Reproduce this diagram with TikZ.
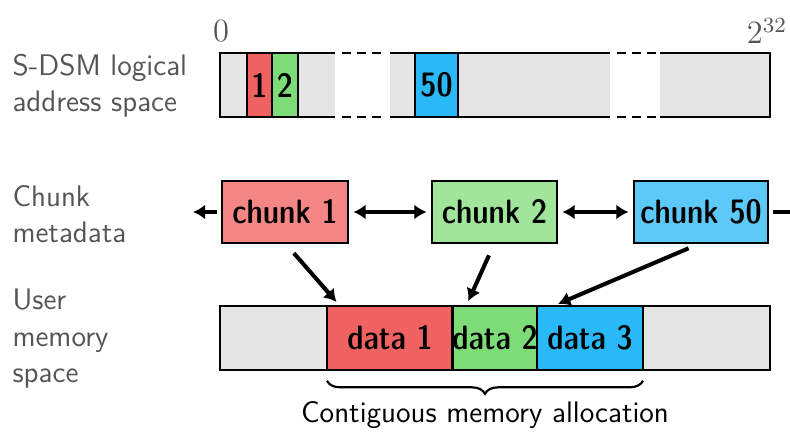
\documentclass[tikz,border=0pt]{standalone}
\usepackage{amsmath}
\usetikzlibrary{arrows.meta,decorations.pathreplacing,calc}

\definecolor{memgray}{HTML}{E5E5E5}
\definecolor{labelgray}{HTML}{555555}
\definecolor{redA}{HTML}{F06262}
\definecolor{redB}{HTML}{F48686}
\definecolor{greenA}{HTML}{7DDB78}
\definecolor{greenB}{HTML}{A0E59A}
\definecolor{blueA}{HTML}{29B8F8}
\definecolor{blueB}{HTML}{5CC9F9}

\newcommand{\boxfont}{\sffamily\fontseries{sbc}\fontsize{12.5}{15}\selectfont}
\newcommand{\plainfont}{\sffamily\fontsize{11}{13.5}\selectfont}

\tikzset{
	cell/.style={draw, rectangle, line width=1pt, inner sep=0pt, outer sep=0pt, minimum height=0.832cm, font=\boxfont},
	chunkbox/.style={draw, rectangle, line width=1pt, inner sep=0pt, outer sep=0pt, minimum height=0.806cm, font=\boxfont},
	side/.style={anchor=west, align=left, inner sep=0pt, text=labelgray, font=\plainfont},
	link/.style={line width=1.5pt, {Latex[length=4.5pt,width=5.5pt]}-{Latex[length=4.5pt,width=5.5pt]}},
	ptr/.style={line width=1.5pt, -{Latex[length=4.5pt,width=5.5pt]}},
	gapline/.style={line width=1pt, dash pattern=on 3.3pt off 2.3pt}
}

\begin{document}
\begin{tikzpicture}[x=0.013cm, y=-0.013cm]
			\useasboundingbox (0,0) rectangle (790,433);

			% left labels
			\node[side] (lsdsm) at ( 12, 86 ) { S-DSM logical\\address space };
			\node[side] (lchunk) at ( 12, 214 ) { Chunk\\metadata };
			\node[side] (luser) at ( 12, 339 ) { User\\memory\\space };

			% logical address space
			\fill[memgray] (220,53) rectangle (335,117);
			\fill[memgray] (390,53) rectangle (610,117);
			\fill[memgray] (660,53) rectangle (770,117);
			\draw[line width=1pt] (335,53) -- (220,53) -- (220,117) -- (335,117);
			\draw[line width=1pt] (390,53) -- (610,53) (390,117) -- (610,117);
			\draw[line width=1pt] (660,53) -- (770,53) -- (770,117) -- (660,117);
			\draw[gapline] (342,53) -- (384,53) (342,117) -- (384,117);
			\draw[gapline] (617,53) -- (656,53) (617,117) -- (656,117);
			\node[cell, fill=redA, minimum width=0.325cm] (b1) at ( 259.5, 85 ) { 1 };
			\node[cell, fill=greenA, minimum width=0.338cm] (b2) at ( 285, 85 ) { 2 };
			\node[cell, fill=blueA, minimum width=0.559cm] (b50) at ( 436.5, 85 ) { 50 };
			\node[text=labelgray, font=\large] (lo) at ( 221, 31 ) { $0$ };
			\node[text=labelgray, font=\large] (hi) at ( 767, 31 ) { $2^{32}$ };

			% chunk metadata
			\node[chunkbox, fill=redB, minimum width=1.638cm] (c1) at ( 285, 212 ) { chunk 1 };
			\node[chunkbox, fill=greenB, minimum width=1.625cm] (c2) at ( 494.5, 212 ) { chunk 2 };
			\node[chunkbox, fill=blueB, minimum width=1.742cm] (c50) at ( 701, 212 ) { chunk 50 };
			\coordinate (prev) at ( 193, 212 );
			\coordinate (next) at ( 790, 212 );

			\draw[ptr, shorten <=2pt] (c1) -- (prev);
			\draw[link, shorten <=2pt, shorten >=2pt] (c1) -- (c2);
			\draw[link, shorten <=2pt, shorten >=2pt] (c2) -- (c50);
			\draw[line width=1.5pt, shorten <=2pt] (c50) -- (next);

			% user memory space
			\draw[line width=1pt, fill=memgray] (220,306) rectangle (770,370);
			\node[cell, fill=redA, minimum width=1.638cm] (d1) at ( 390, 338 ) { data 1 };
			\node[cell, fill=greenA, minimum width=1.092cm] (d2) at ( 495, 338 ) { data 2 };
			\node[cell, fill=blueA, minimum width=1.378cm] (d3) at ( 590, 338 ) { data 3 };

			\draw[ptr, shorten <=5pt, shorten >=2pt] (c1.south) -- ([xshift=0.17cm]d1.north west);
			\draw[ptr, shorten <=5pt, shorten >=2pt] (c2.south) -- ([xshift=0.18cm]d2.north west);
			\draw[ptr, shorten <=5pt, shorten >=2pt] (c50.south) -- ([xshift=0.21cm]d3.north west);

			\draw[line width=0.8pt, decorate, decoration={brace, mirror, amplitude=0.17cm}] ([yshift=-0.14cm]d1.south west) -- ([yshift=-0.14cm]d3.south east) node[midway, below, yshift=-0.14cm, font=\plainfont, text=black] (alloc) { Contiguous memory allocation };
		\end{tikzpicture}
\end{document}
